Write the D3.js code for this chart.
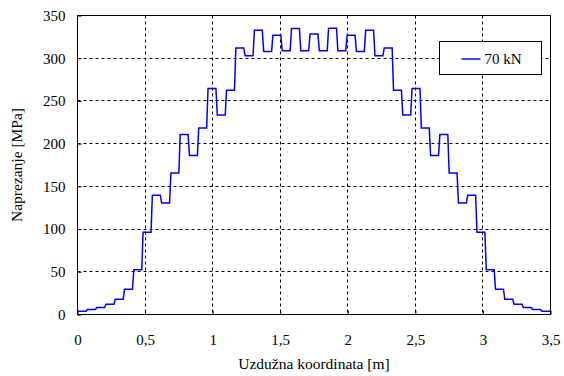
<!DOCTYPE html>
<html>
<head>
<meta charset="utf-8">
<script src="https://cdn.jsdelivr.net/npm/d3@7"></script>
<style>
  body { margin: 0; background: #fff; }
  svg, svg text { font-family: "Liberation Serif", "Times New Roman", serif; }
</style>
</head>
<body>
<div id="chart"></div>
<script>
// stress per beam segment, left to right (51 equal segments over 3.5 m)
const stress = [
  3.9, 5.9, 8.2, 12, 17.9, 29.6, 52.3, 96.4, 139.7, 130.4,
  165.5, 210.8, 186.2, 218.2, 264.6, 233.4, 262.6, 311.9, 302.9, 332.6,
  308, 327, 308.8, 334.9, 308.8, 328.2, 308.8, 335, 308.8, 327,
  308, 332.6, 302.9, 311.9, 262.6, 233.4, 264.6, 218.2, 186.2, 210.8,
  165.5, 130.4, 139.7, 96.4, 52.3, 29.6, 17.9, 12, 8.2, 5.9, 3.9
];
const beamLength = 3.5;
const xTicks = [0, 0.5, 1, 1.5, 2, 2.5, 3, 3.5];
const yTicks = [0, 50, 100, 150, 200, 250, 300, 350];
const seriesName = "70 kN";

const width = 564, height = 376;
const margin = {top: 15.5, right: 13.5, bottom: 61.5, left: 77.5};
const w = width - margin.left - margin.right;
const h = height - margin.top - margin.bottom;

const svg = d3.select("#chart").append("svg")
  .attr("width", width)
  .attr("height", height);

const g = svg.append("g")
  .attr("transform", `translate(${margin.left},${margin.top})`);

const x = d3.scaleLinear().domain([0, beamLength]).range([0, w]);
const y = d3.scaleLinear().domain([0, 350]).range([h, 0]);

// dashed grid
g.append("g").selectAll("line")
  .data(xTicks.slice(1, -1))
  .join("line")
  .attr("x1", d => Math.round(x(d))).attr("x2", d => Math.round(x(d)))
  .attr("y1", 0).attr("y2", h)
  .attr("stroke", "#000").attr("stroke-width", 1)
  .attr("stroke-dasharray", "3,3");

g.append("g").selectAll("line")
  .data(yTicks.slice(1, -1))
  .join("line")
  .attr("y1", d => Math.round(y(d))).attr("y2", d => Math.round(y(d)))
  .attr("x1", 0).attr("x2", w)
  .attr("stroke", "#000").attr("stroke-width", 1)
  .attr("stroke-dasharray", "3,3");

const fmt = d => String(d).replace(".", ",");

const xAxis = g.append("g")
  .attr("transform", `translate(0,${h})`)
  .call(d3.axisBottom(x).tickValues(xTicks).tickFormat(fmt).tickSize(-4).tickPadding(20));
const yAxis = g.append("g")
  .call(d3.axisLeft(y).tickValues(yTicks).tickSize(-4).tickPadding(12));

[xAxis, yAxis].forEach(a => {
  a.attr("font-family", null);
  a.select(".domain").remove();
  a.selectAll("text").attr("font-size", 15).attr("fill", "#000")
    .style("font-family", "'Liberation Serif', 'Times New Roman', serif");
  a.selectAll("line").attr("stroke", "#000");
});

// step line: each segment drawn flat, short slanted jumps between them
const seg = beamLength / stress.length;
const gap = 0.005;
const pts = [];
stress.forEach((v, i) => {
  const x0 = i * seg + (i === 0 ? 0 : gap);
  const x1 = (i + 1) * seg - (i === stress.length - 1 ? 0 : gap);
  pts.push([x0, v], [x1, v]);
});

g.append("path")
  .datum(pts)
  .attr("fill", "none")
  .attr("stroke", "#0000ff")
  .attr("stroke-width", 1.5)
  .attr("stroke-linejoin", "miter")
  .attr("d", d3.line().x(d => x(d[0])).y(d => y(d[1])));

// plot frame
g.append("rect")
  .attr("width", w).attr("height", h)
  .attr("fill", "none").attr("stroke", "#000").attr("stroke-width", 1);

// legend
const leg = g.append("g").attr("transform", `translate(${Math.round(x(2.675))},${Math.round(y(319))})`);
leg.append("rect")
  .attr("width", 102).attr("height", 33)
  .attr("fill", "#fff").attr("stroke", "#000");
leg.append("line")
  .attr("x1", 22).attr("x2", 41).attr("y1", 17.5).attr("y2", 17.5)
  .attr("stroke", "#0000ff").attr("stroke-width", 1.5);
leg.append("text")
  .attr("x", 45).attr("y", 22.5)
  .attr("font-size", 15)
  .text(seriesName);

// axis titles
svg.append("text")
  .attr("x", margin.left + w / 2).attr("y", 369)
  .attr("text-anchor", "middle")
  .attr("font-size", 15.5)
  .text("Uzdužna koordinata [m]");

svg.append("text")
  .attr("transform", `translate(22,${margin.top + h / 2}) rotate(-90)`)
  .attr("text-anchor", "middle")
  .attr("font-size", 15.5)
  .text("Naprezanje [MPa]");
</script>
</body>
</html>
